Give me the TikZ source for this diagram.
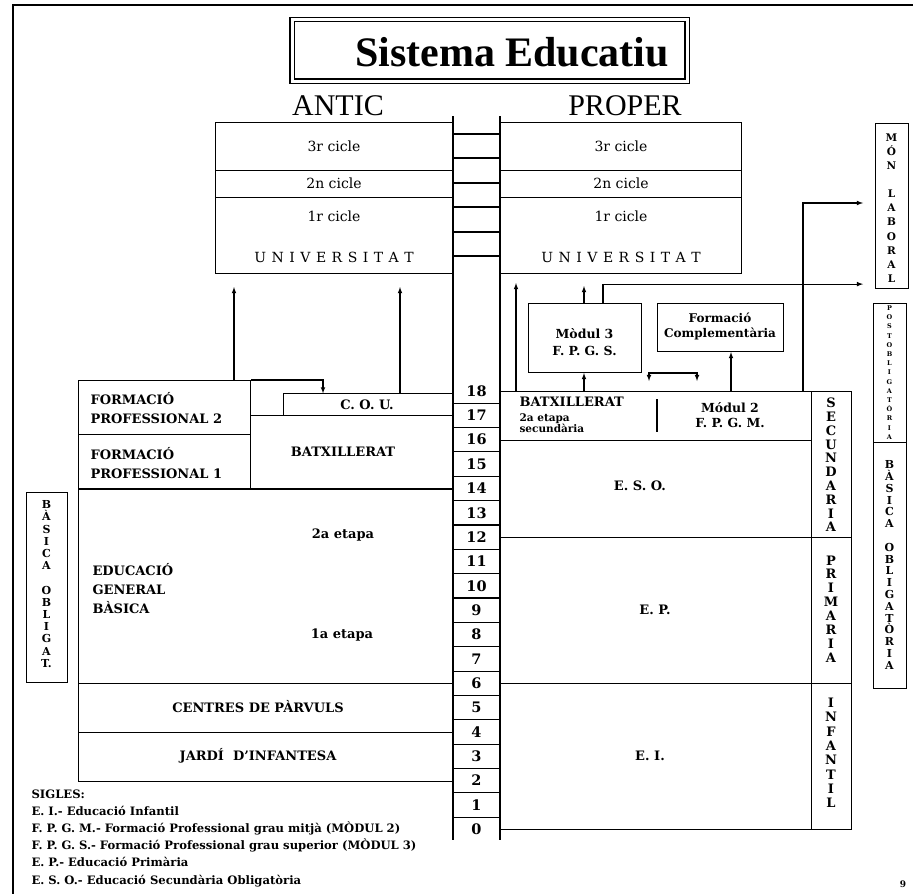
\documentclass[tikz,border=0pt]{standalone}
\usepackage{fontspec}
\setmainfont{DejaVu Serif}
\newfontfamily\titolfont{Liberation Serif}
\newcommand{\mida}{\fontsize{13}{19}\selectfont\bfseries}
\newcommand{\midap}{\fontsize{10.5}{11.5}\selectfont\bfseries}
\newcommand{\esp}{\hspace{5.5pt}}

\begin{document}
\begin{tikzpicture}[x=1pt,y=-1pt,line width=1.1pt,
  caixa/.style={draw,inner sep=0pt,anchor=north west},
  rotul/.style={inner sep=0pt,font=\mida},
  rotulf/.style={inner sep=0pt,font=\fontsize{14}{15}\selectfont},
  numero/.style={inner sep=0pt,font=\fontsize{14.5}{15}\selectfont\bfseries},
  fletxa/.style={->,>=latex}]
\useasboundingbox (0,0) rectangle (913,894);
\draw (13,894) -- (13,5) -- (913,5);

\node[caixa,double,double distance=3pt,minimum width=395pt,minimum height=61.5pt] (titol) at (291.5,19) {};
\node[inner sep=0pt,anchor=base,font=\titolfont\bfseries\fontsize{42}{42}\selectfont] (nomtitol) at (512,66) {Sistema Educatiu};
\node[inner sep=0pt,anchor=base,font=\titolfont\fontsize{30}{30}\selectfont] (antic) at (338,115) {ANTIC};
\node[inner sep=0pt,anchor=base,font=\titolfont\fontsize{30}{30}\selectfont] (proper) at (625,115) {PROPER};

\node[caixa,minimum width=238pt,minimum height=48pt] (cicle3A) at (215,122) {};
\node[caixa,minimum width=238pt,minimum height=27pt] (cicle2A) at (215,170) {};
\node[caixa,minimum width=238pt,minimum height=76pt] (cicle1A) at (215,197) {};
\node[rotulf] (t3A) at (334,146) {3r cicle};
\node[rotulf] (t2A) at (334,183.5) {2n cicle};
\node[rotulf] (t1A) at (334,216) {1r cicle};
\node[rotulf] (uniA) at (334,257) {U\esp N\esp I\esp V\esp E\esp R\esp S\esp I\esp T\esp A\esp T};

\node[caixa,minimum width=241pt,minimum height=48pt] (cicle3B) at (500,122) {};
\node[caixa,minimum width=241pt,minimum height=27pt] (cicle2B) at (500,170) {};
\node[caixa,minimum width=241pt,minimum height=76pt] (cicle1B) at (500,197) {};
\node[rotulf] (t3B) at (621,146) {3r cicle};
\node[rotulf] (t2B) at (621,183.5) {2n cicle};
\node[rotulf] (t1B) at (621,216) {1r cicle};
\node[rotulf] (uniB) at (621,257) {U\esp N\esp I\esp V\esp E\esp R\esp S\esp I\esp T\esp A\esp T};

\draw (453,116) -- (453,840);
\draw (500,116) -- (500,840);
\foreach \y in {134,158,183,207,232,256}
  \draw (453,\y) -- (500,\y);
\foreach \k in {0,...,18}
  \node[numero] (any\k) at (476.5,{391+(18-\k)*24.35}) {\k};
\foreach \k in {1,...,18}
  \draw (453,{403.2+(18-\k)*24.35}) -- (500,{403.2+(18-\k)*24.35});

\node[caixa,minimum width=172pt,minimum height=54pt] (fp2) at (78,380) {};
\node[rotul,anchor=west,align=left] (tfp2) at (90,408) {FORMACIÓ\\PROFESSIONAL 2};
\node[caixa,minimum width=172pt,minimum height=54.4pt] (fp1) at (78,434) {};
\node[rotul,anchor=west,align=left] (tfp1) at (90,463) {FORMACIÓ\\PROFESSIONAL 1};
\node[caixa,minimum width=170pt,minimum height=22pt] (cou) at (283,393.35) {};
\node[rotul] (tcou) at (367,405) {C. O. U.};
\draw[fletxa] (fp2.north east) -| ([xshift=40pt]cou.north west);
\draw[fletxa] ([xshift=156pt]fp2.north west) -- ([xshift=19pt,yshift=-13pt]cicle1A.south west);
\draw[fletxa] ([xshift=117pt]cou.north west) -- ([xshift=185pt,yshift=-13pt]cicle1A.south west);
\node[caixa,minimum width=203pt,minimum height=73.05pt] (batxA) at (250,415.35) {};
\node[rotul] (tbatxA) at (343,452) {BATXILLERAT};
\node[caixa,minimum width=375pt,minimum height=194.8pt] (egb) at (78,488.4) {};
\node[rotul,anchor=west,align=left] (tegb) at (92,589) {EDUCACIÓ\\GENERAL\\BÀSICA};
\node[rotul] (etapa2) at (343,535) {2a etapa};
\node[rotul] (etapa1) at (342,635) {1a etapa};
\node[caixa,minimum width=375pt,minimum height=48.7pt] (parvuls) at (78,683.2) {};
\node[rotul] (tparvuls) at (258,707) {CENTRES DE PÀRVULS};
\node[caixa,minimum width=375pt,minimum height=48.7pt] (jardi) at (78,731.9) {};
\node[rotul] (tjardi) at (258,756) {JARDÍ\ \ D'INFANTESA};

\node[caixa,minimum width=41pt,minimum height=190pt] (basicaA) at (26,492) {};
\node[inner sep=0pt,align=center,font=\fontsize{11}{12.2}\selectfont\bfseries] (tbasicaA) at (46.5,584) {B\\À\\S\\I\\C\\A\\\mbox{}\\O\\B\\L\\I\\G\\A\\T.};

\node[caixa,minimum width=311pt,minimum height=48.7pt] (batxB) at (500,391) {};
\node[rotul,anchor=west] (tbatxB) at (519,402) {BATXILLERAT};
\node[inner sep=0pt,anchor=west,align=left,font=\midap] (tetapaB) at (519,423) {2a etapa\\secundària};
\draw (657,399) -- (657,432);
\node[rotul,align=center,font=\fontsize{12.5}{15}\selectfont\bfseries] (tmod2) at (730,415.5) {Módul 2\\F. P. G. M.};
\node[caixa,minimum width=40pt,minimum height=146.1pt] (secund) at (811,391) {};
\node[inner sep=0pt,align=center,font=\fontsize{13}{13.8}\selectfont\bfseries] (tsecund) at (831,465) {S\\E\\C\\U\\N\\D\\A\\R\\I\\A};
\node[caixa,minimum width=311pt,minimum height=97.4pt] (eso) at (500,439.7) {};
\node[rotul] (teso) at (640,486) {E. S. O.};
\node[caixa,minimum width=311pt,minimum height=146.1pt] (ep) at (500,537.1) {};
\node[rotul] (tep) at (655,610) {E. P.};
\node[caixa,minimum width=40pt,minimum height=146.1pt] (primaria) at (811,537.1) {};
\node[inner sep=0pt,align=center,font=\fontsize{13}{13.9}\selectfont\bfseries] (tprimaria) at (831,609) {P\\R\\I\\M\\A\\R\\I\\A};
\node[caixa,minimum width=311pt,minimum height=146.1pt] (ei) at (500,683.2) {};
\node[rotul] (tei) at (650,756) {E. I.};
\node[caixa,minimum width=40pt,minimum height=146.1pt] (infantil) at (811,683.2) {};
\node[inner sep=0pt,align=center,font=\fontsize{13}{14.3}\selectfont\bfseries] (tinfantil) at (831,753) {I\\N\\F\\A\\N\\T\\I\\L};

\node[caixa,minimum width=113pt,minimum height=69pt] (mod3) at (528,303) {};
\node[rotul,align=center,font=\fontsize{12.5}{17}\selectfont\bfseries] (tmod3) at (584.5,342) {Mòdul 3\\F. P. G. S.};
\node[caixa,minimum width=126pt,minimum height=48pt] (fc) at (657,303) {};
\node[rotul,align=center,font=\fontsize{12}{15}\selectfont\bfseries] (tfc) at (720,326) {Formació\\Complementària};

\node[caixa,minimum width=33pt,minimum height=165pt] (mon) at (875,123) {};
\node[inner sep=0pt,align=center,font=\fontsize{10.5}{14.1}\selectfont\bfseries] (tmon) at (891.5,208) {M\\Ó\\N\\\mbox{}\\L\\A\\B\\O\\R\\A\\L};
\node[caixa,minimum width=33pt,minimum height=139pt] (postob) at (873,303) {};
\node[inner sep=0pt,align=center,font=\fontsize{6.5}{9.2}\selectfont\bfseries] (tpostob) at (889.5,372.5) {P\\O\\S\\T\\O\\B\\L\\I\\G\\A\\T\\Ò\\R\\I\\A};
\node[caixa,minimum width=33pt,minimum height=246pt] (basicaB) at (873,442) {};
\node[inner sep=0pt,align=center,font=\fontsize{11}{11.8}\selectfont\bfseries] (tbasicaB) at (889.5,565) {B\\À\\S\\I\\C\\A\\\mbox{}\\O\\B\\L\\I\\G\\A\\T\\Ò\\R\\I\\A};

\draw[fletxa] ([xshift=16pt]batxB.north west) -- ([xshift=16pt,yshift=-9pt]cicle1B.south west);
\draw[fletxa] ([xshift=56pt]mod3.north west) -- ([xshift=84pt,yshift=-12pt]cicle1B.south west);
\draw[fletxa] ([xshift=84pt]batxB.north west) -- ([xshift=56pt]mod3.south west);
\draw[fletxa] ([xshift=75pt]mod3.north west) |- ([xshift=-12pt,yshift=5pt]mon.south west);
\draw[fletxa] ([xshift=303pt]batxB.north west) |- ([xshift=-12pt,yshift=-80pt]mon.north west);
\draw[fletxa] ([xshift=231pt]batxB.north west) -- ([xshift=74pt]fc.south west);
\draw[<->,>=latex] ([xshift=149pt,yshift=10pt]batxB.north west) -- ++(0,-8) -- ++(48,0) -- ++(0,8);

\node[anchor=north west,align=left,inner sep=0pt,font=\fontsize{11.6}{17.2}\selectfont\bfseries] (sigles) at (31,789) {SIGLES:\\E. I.- Educació Infantil\\F. P. G. M.- Formació Professional grau mitjà (MÒDUL 2)\\F. P. G. S.- Formació Professional grau superior (MÒDUL 3)\\E. P.- Educació Primària\\E. S. O.- Educació Secundària Obligatòria};
\node[inner sep=0pt,font=\fontsize{9}{9}\selectfont\bfseries] (pagina) at (903,884) {9};
\end{tikzpicture}
\end{document}
